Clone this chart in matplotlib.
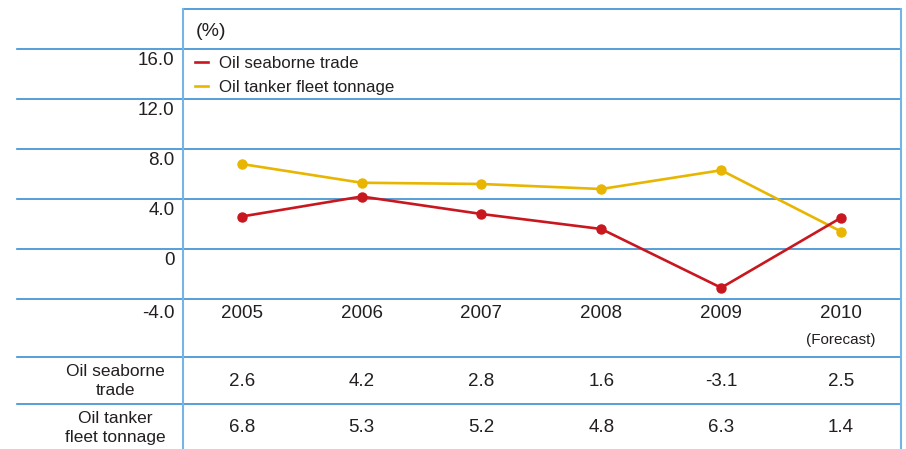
import matplotlib.pyplot as plt

# data
years = ["2005", "2006", "2007", "2008", "2009", "2010"]
trade = [2.6, 4.2, 2.8, 1.6, -3.1, 2.5]
tonnage = [6.8, 5.3, 5.2, 4.8, 6.3, 1.4]
yticks = [16, 12, 8, 4, 0, -4]
ytick_labels = ["16.0", "12.0", "8.0", "4.0", "0", "-4.0"]
row_labels = ["Oil seaborne\ntrade", "Oil tanker\nfleet tonnage"]

plt.rcParams["font.family"] = ["Liberation Sans", "DejaVu Sans"]
RED = "#c9171f"
YELLOW = "#e8b500"
GRID = "#3a8fd3"
VLINE = "#74b4e6"
TXT = "#231f20"

fig = plt.figure(figsize=(9.06, 4.49), dpi=100)
ax = fig.add_axes([183 / 906, 150 / 449, 718 / 906, 290 / 449])
ax.set_xlim(-0.49, 5.5)
ax.set_ylim(-4, 19.2)
ax.axis("off")

x = list(range(len(years)))

# horizontal grid lines, reaching left into the label column
left = -0.2312
for v in yticks:
    ax.axhline(v, xmin=left, xmax=1, color=GRID, lw=1.2, clip_on=False)
# table row separators
for v in [-8.64, -12.4]:
    ax.axhline(v, xmin=left, xmax=1, color=GRID, lw=1.2, clip_on=False)
# top border
ax.plot([0, 1], [1, 1], transform=ax.transAxes, color=GRID, lw=1.2, clip_on=False)
# vertical lines
ax.plot([0, 0], [-0.52, 1], transform=ax.transAxes, color=VLINE, lw=1.5, clip_on=False)
ax.plot([1, 1], [-0.52, 1], transform=ax.transAxes, color=VLINE, lw=1.5, clip_on=False)

# series
ax.plot(x, tonnage, color=YELLOW, lw=1.9, marker="o", ms=6.5, label="Oil tanker fleet tonnage", zorder=3)
ax.plot(x, trade, color=RED, lw=1.9, marker="o", ms=6.5, label="Oil seaborne trade", zorder=4)

# y labels sit just below their lines
for v, lab in zip(yticks, ytick_labels):
    off = 1.2 if v == -4 else 0.9
    ax.text(-0.56, v - off, lab, ha="right", va="center", fontsize=13.5, color=TXT, clip_on=False)

# year labels
for i, yr in enumerate(years):
    ax.text(i, -5.12, yr, ha="center", va="center", fontsize=13.5, color=TXT)
ax.text(5, -7.28, "(Forecast)", ha="center", va="center", fontsize=11, color=TXT)

# table rows
for i in x:
    ax.text(i, -10.56, f"{trade[i]:.1f}", ha="center", va="center", fontsize=13.5, color=TXT)
    ax.text(i, -14.32, f"{tonnage[i]:.1f}", ha="center", va="center", fontsize=13.5, color=TXT)
ax.text(-1.057, -10.56, row_labels[0], ha="center", va="center", fontsize=12.5,
        color=TXT, linespacing=1.3)
ax.text(-1.057, -14.32, row_labels[1], ha="center", va="center", fontsize=12.5,
        color=TXT, linespacing=1.3)

ax.text(0.018, 0.921, "(%)", transform=ax.transAxes, ha="left", va="center", fontsize=14, color=TXT)

handles, labels = ax.get_legend_handles_labels()
leg = ax.legend(handles[::-1], labels[::-1], loc="upper left", bbox_to_anchor=(0.0, 0.88),
                frameon=False, fontsize=12.2, handlelength=0.8, handletextpad=0.6,
                labelspacing=0.55, borderaxespad=0.3)
for h in leg.legend_handles:
    h.set_marker("")
for t in leg.get_texts():
    t.set_color(TXT)

fig.savefig("out.png", dpi=100)
